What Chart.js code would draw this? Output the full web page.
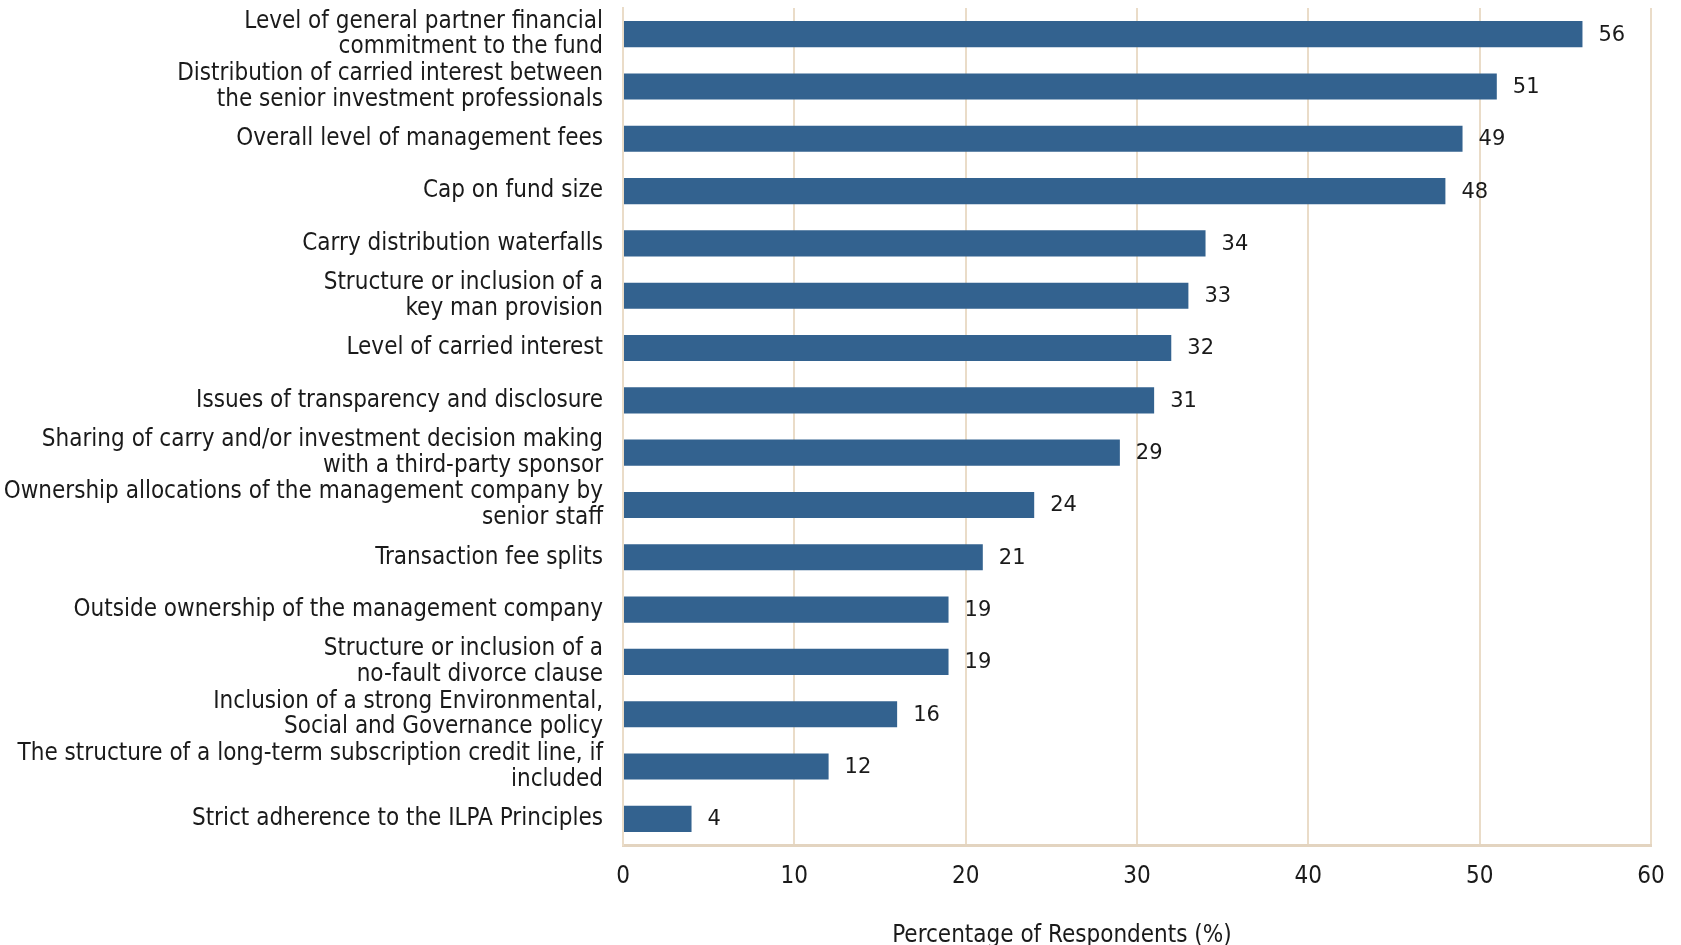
<!DOCTYPE html>
<html>
<head>
<meta charset="utf-8">
<script src="https://cdn.jsdelivr.net/npm/chart.js@4"></script>
<style>
	html, body { margin: 0; padding: 0; background: #ffffff; }
	#wrap { width: 1681px; height: 945px; }
</style>
</head>
<body>
<div id="wrap"><canvas id="myChart" width="1681" height="945"></canvas></div>
<script>
// Survey items, top to bottom
var categories = [
	["Level of general partner financial", "commitment to the fund"],
	["Distribution of carried interest between", "the senior investment professionals"],
	"Overall level of management fees",
	"Cap on fund size",
	"Carry distribution waterfalls",
	["Structure or inclusion of a", "key man provision"],
	"Level of carried interest",
	"Issues of transparency and disclosure",
	["Sharing of carry and/or investment decision making", "with a third-party sponsor"],
	["Ownership allocations of the management company by", "senior staff"],
	"Transaction fee splits",
	"Outside ownership of the management company",
	["Structure or inclusion of a", "no-fault divorce clause"],
	["Inclusion of a strong Environmental,", "Social and Governance policy"],
	["The structure of a long-term subscription credit line, if", "included"],
	"Strict adherence to the ILPA Principles"
];
var values = [56, 51, 49, 48, 34, 33, 32, 31, 29, 24, 21, 19, 19, 16, 12, 4];
var xTicks = [0, 10, 20, 30, 40, 50, 60];
var axisTitle = "Percentage of Respondents (%)";

var labelFont = "'DejaVu Sans Condensed', 'DejaVu Sans', sans-serif";

// numbers at the end of each bar + the x axis title
var valueLabels = {
	id: 'valueLabels',
	afterDatasetsDraw: function(chart) {
		var ctx = chart.ctx;
		var meta = chart.getDatasetMeta(0);
		var area = chart.chartArea;
		ctx.save();
		ctx.font = "21px 'DejaVu Sans', sans-serif";
		ctx.fillStyle = '#1a1a1a';
		ctx.textAlign = 'left';
		ctx.textBaseline = 'middle';
		meta.data.forEach(function(bar, i) {
			ctx.fillText(String(values[i]), bar.x + 16, bar.y + 1);
		});

		// title sits a bit left of the plot centre
		ctx.font = "24px " + labelFont;
		ctx.textAlign = 'center';
		ctx.fillText(axisTitle, area.left + (area.right - area.left) * 0.427, 936);
		ctx.restore();
	}
};

var ctx = document.getElementById('myChart').getContext('2d');
var myChart = new Chart(ctx, {
	type: 'bar',
	data: {
		labels: categories,
		datasets: [
			{
				data: values,
				backgroundColor: '#33628f',
				borderWidth: 0,
				barPercentage: 0.5,
				categoryPercentage: 1.0
			}
		]
	},
	options: {
		indexAxis: 'y',
		responsive: false,
		animation: false,
		layout: { padding: { top: 8, right: 30, left: 0, bottom: 0 } },
		plugins: {
			legend: { display: false },
			tooltip: { enabled: false }
		},
		scales: {
			x: {
				min: 0,
				max: 60,
				afterBuildTicks: function(scale) {
					scale.ticks = xTicks.map(function(v) { return { value: v }; });
				},
				afterFit: function(scale) {
					scale.height = 100;
					scale.paddingRight = 0;
				},
				grid: { color: '#eadcc8', lineWidth: 2, drawTicks: false },
				border: { color: '#e3d4c0', width: 3 },
				ticks: {
					color: '#1a1a1a',
					padding: 17,
					font: { family: labelFont, size: 24 }
				}
			},
			y: {
				afterFit: function(scale) {
					scale.width = 623;
					scale.paddingTop = 0;
					scale.paddingBottom = 0;
				},
				grid: { display: false, drawTicks: false },
				border: { color: '#eadcc8', width: 2 },
				ticks: {
					color: '#1a1a1a',
					padding: 20,
					autoSkip: false,
					font: { family: labelFont, size: 24, lineHeight: 1.07 }
				}
			}
		}
	},
	plugins: [valueLabels]
});
</script>
</body>
</html>
